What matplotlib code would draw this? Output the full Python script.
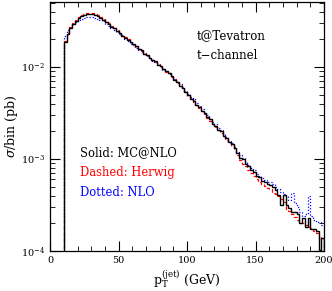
import numpy as np
import matplotlib
matplotlib.use("Agg")
import matplotlib.pyplot as plt
from matplotlib.ticker import MultipleLocator, LogLocator, LogFormatterMathtext, NullFormatter

plt.rcParams['font.family'] = 'DejaVu Serif'
plt.rcParams['mathtext.fontset'] = 'dejavuserif'

# bin edges in GeV (2 GeV bins from 10 to 200)
edges = np.arange(10, 201, 2)

# log10(sigma/bin [pb]), one value per bin
mcatnlo_log10 = [
    -1.73, -1.64, -1.58, -1.53, -1.495, -1.47, -1.45, -1.435, -1.425, -1.42,
    -1.425, -1.435, -1.445, -1.47, -1.485, -1.51, -1.53, -1.56, -1.58, -1.61,
    -1.63, -1.66, -1.68, -1.71, -1.725, -1.755, -1.775, -1.805, -1.82, -1.855,
    -1.87, -1.90, -1.925, -1.94, -1.975, -1.99, -2.02, -2.04, -2.07, -2.095,
    -2.14, -2.16, -2.205, -2.23, -2.275, -2.30, -2.345, -2.365, -2.41, -2.435,
    -2.48, -2.50, -2.545, -2.57, -2.615, -2.64, -2.685, -2.70, -2.75, -2.775,
    -2.82, -2.84, -2.885, -2.935, -2.985, -3.005, -3.05, -3.075, -3.12, -3.14,
    -3.19, -3.20, -3.235, -3.25, -3.275, -3.28, -3.30, -3.34, -3.39, -3.50,
    -3.39, -3.50, -3.53, -3.58, -3.58, -3.60, -3.70, -3.64, -3.74, -3.64,
    -3.76, -3.76, -3.78, -3.99, -3.86,
]
herwig_log10 = [
    -1.72, -1.63, -1.57, -1.52, -1.49, -1.46, -1.44, -1.425, -1.415, -1.41,
    -1.415, -1.425, -1.44, -1.46, -1.48, -1.50, -1.525, -1.55, -1.575, -1.60,
    -1.625, -1.655, -1.675, -1.70, -1.73, -1.75, -1.78, -1.80, -1.83, -1.85,
    -1.875, -1.905, -1.92, -1.95, -1.97, -2.00, -2.025, -2.05, -2.07, -2.11,
    -2.135, -2.17, -2.20, -2.24, -2.27, -2.31, -2.34, -2.38, -2.41, -2.45,
    -2.475, -2.515, -2.55, -2.585, -2.615, -2.655, -2.68, -2.72, -2.75, -2.79,
    -2.83, -2.86, -2.90, -2.96, -3.01, -3.05, -3.08, -3.12, -3.15, -3.19,
    -3.22, -3.245, -3.27, -3.29, -3.32, -3.33, -3.37, -3.38, -3.40, -3.44,
    -3.47, -3.55, -3.57, -3.60, -3.63, -3.66, -3.70, -3.70, -3.72, -3.74,
    -3.75, -3.78, -3.80, -3.88, -3.85,
]
nlo_log10 = [
    -1.66, -1.60, -1.56, -1.53, -1.51, -1.49, -1.475, -1.465, -1.46, -1.455,
    -1.455, -1.465, -1.475, -1.49, -1.505, -1.53, -1.55, -1.575, -1.60, -1.62,
    -1.645, -1.665, -1.695, -1.715, -1.745, -1.765, -1.79, -1.81, -1.84, -1.86,
    -1.885, -1.905, -1.935, -1.95, -1.98, -2.00, -2.03, -2.045, -2.08, -2.10,
    -2.13, -2.16, -2.19, -2.22, -2.26, -2.29, -2.33, -2.35, -2.39, -2.42,
    -2.46, -2.49, -2.525, -2.56, -2.60, -2.62, -2.66, -2.69, -2.73, -2.76,
    -2.80, -2.83, -2.87, -2.92, -2.96, -2.99, -3.03, -3.06, -3.10, -3.12,
    -3.16, -3.18, -3.21, -3.23, -3.25, -3.25, -3.27, -3.30, -3.33, -3.36,
    -3.38, -3.40, -3.45, -3.37, -3.48, -3.52, -3.58, -3.62, -3.60, -3.40,
    -3.62, -3.66, -3.68, -3.68, -3.72,
]

mcatnlo = 10.0 ** np.array(mcatnlo_log10)
herwig = 10.0 ** np.array(herwig_log10)
nlo = 10.0 ** np.array(nlo_log10)

fig = plt.figure(figsize=(3.32, 2.91), dpi=100)
ax = fig.add_axes([0.151, 0.1375, 0.825, 0.856])

base = 1e-5
ax.stairs(nlo, edges, baseline=base, color='#0000ff', ls=(0, (1, 1.5)), lw=0.9)
ax.stairs(herwig, edges, baseline=base, color='#ff0000', ls=(0, (3, 2)), lw=0.9)
ax.stairs(mcatnlo, edges, baseline=base, color='black', ls='-', lw=1.0)

ax.set_yscale('log')
ax.set_xlim(0, 200)
ax.set_ylim(1e-4, 0.051)

ax.xaxis.set_major_locator(MultipleLocator(50))
ax.xaxis.set_minor_locator(MultipleLocator(10))
ax.yaxis.set_major_locator(LogLocator(base=10, numticks=10))
ax.yaxis.set_minor_locator(LogLocator(base=10, subs=np.arange(2, 10), numticks=20))
ax.yaxis.set_major_formatter(LogFormatterMathtext())
ax.yaxis.set_minor_formatter(NullFormatter())

ax.tick_params(which='both', direction='in', top=True, right=True, labelsize=7)
ax.tick_params(which='major', length=7, width=0.8)
ax.tick_params(which='minor', length=3.5, width=0.6)
for s in ax.spines.values():
    s.set_linewidth(0.9)

ax.set_ylabel(r'$\sigma$/bin (pb)', fontsize=9, labelpad=1)
ax.set_xlabel(r'p$_\mathrm{T}^\mathrm{(jet)}$ (GeV)', fontsize=9, labelpad=2)

ax.text(0.535, 0.865, 't@Tevatron', transform=ax.transAxes, fontsize=8.5, va='center')
ax.text(0.535, 0.785, 't\u2212channel', transform=ax.transAxes, fontsize=8.5, va='center')
ax.text(0.11, 0.395, 'Solid: MC@NLO', transform=ax.transAxes, fontsize=8.3, va='center', color='black')
ax.text(0.11, 0.315, 'Dashed: Herwig', transform=ax.transAxes, fontsize=8.3, va='center', color='#ff0000')
ax.text(0.11, 0.235, 'Dotted: NLO', transform=ax.transAxes, fontsize=8.3, va='center', color='#0000ff')

fig.savefig('out.png', dpi=100)
